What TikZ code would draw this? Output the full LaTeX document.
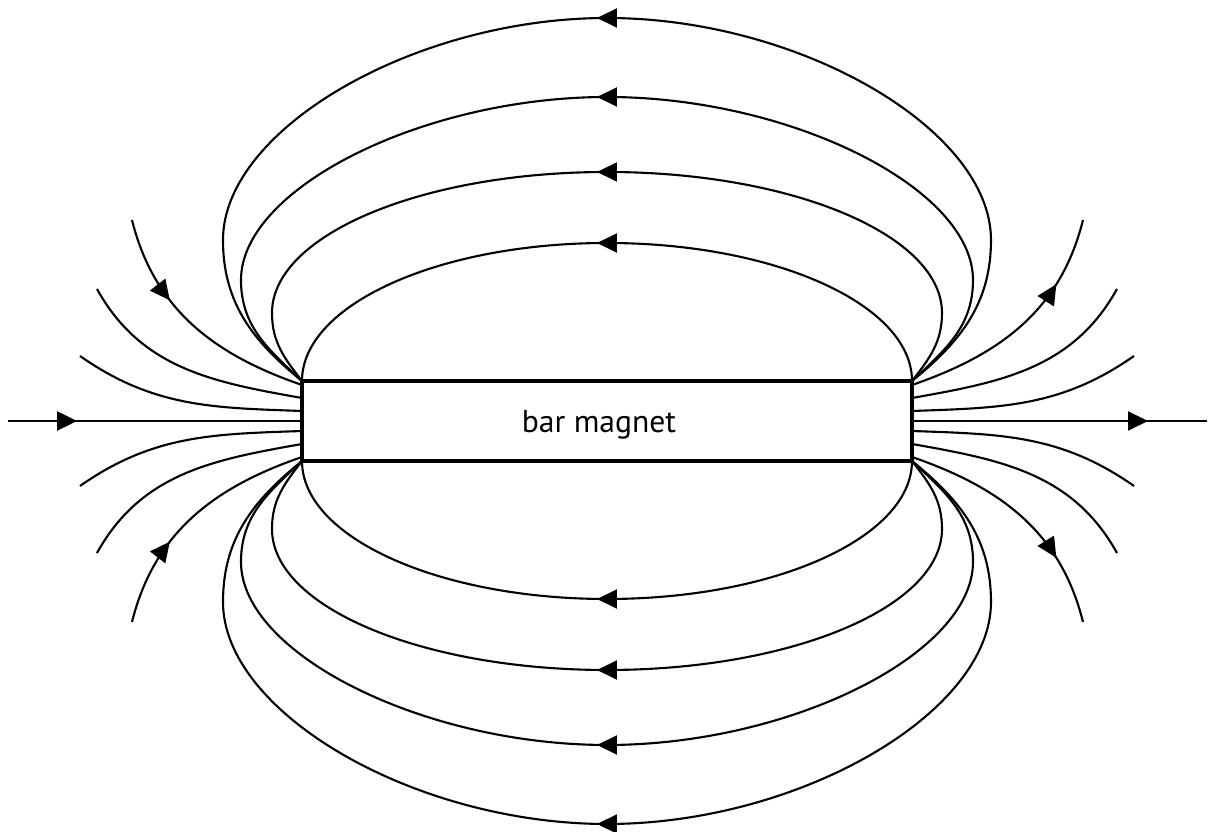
\documentclass[tikz,border=0pt]{standalone}
\usepackage{fontspec}
\newfontfamily\magnetfont{PT Sans}
\usetikzlibrary{arrows.meta,decorations.markings}
\tikzset{%
	magnet/.style    = {draw, line width=0.9pt, rectangle, minimum width=6.1cm,
		minimum height=0.8cm, inner sep=0pt, outer sep=0pt}, % Bar
	field/.style     = {line width=0.6pt}, % Field line
	midarrow/.style  = {postaction={decorate}, decoration={markings,
		mark=at position #1 with {\arrow{Triangle[length=2mm, width=1.9mm]}}}},
	looparrow/.style = {postaction={decorate}, decoration={markings,
		mark=at position 0.5 with {\arrow[xshift=1mm]{Triangle[length=2mm, width=1.9mm]}}}}
}
\begin{document}
\begin{tikzpicture}
			\useasboundingbox (-6.07,-4.11) rectangle (6.02,4.21);
			\node[magnet] (mag) at (0,0) {};
			\node[font=\magnetfont\fontsize{9pt}{11pt}\selectfont] (name) at ([xshift=-0.8mm,yshift=-0.4mm]mag.center) {bar magnet};
			
			% loops above
			\draw[field,looparrow] (mag.north east) arc[start angle=0, end angle=180, x radius=3.05, y radius=1.38];
			\draw[field,looparrow] (mag.north east) to[out=52,in=-90] (3.35,1.08) .. controls (3.35,1.86) and (1.85,2.49) .. (0,2.49) .. controls (-1.85,2.49) and (-3.35,1.86) .. (-3.35,1.08) to[out=-90,in=128] (mag.north west);
			\draw[field,looparrow] (mag.north east) to[out=43,in=-90] (3.66,1.41) .. controls (3.66,2.33) and (1.83,3.24) .. (0,3.24) .. controls (-1.83,3.24) and (-3.66,2.33) .. (-3.66,1.41) to[out=-90,in=137] (mag.north west);
			\draw[field,looparrow] (mag.north east) to[out=39,in=-90] (3.84,1.81) .. controls (3.84,2.92) and (1.92,4.03) .. (0,4.03) .. controls (-1.92,4.03) and (-3.84,2.92) .. (-3.84,1.81) to[out=-90,in=141] (mag.north west);
			
			% loops below
			\draw[field,looparrow] (mag.south east) arc[start angle=0, end angle=-180, x radius=3.05, y radius=1.38];
			\draw[field,looparrow] (mag.south east) to[out=-52,in=90] (3.35,-1.08) .. controls (3.35,-1.86) and (1.85,-2.49) .. (0,-2.49) .. controls (-1.85,-2.49) and (-3.35,-1.86) .. (-3.35,-1.08) to[out=90,in=-128] (mag.south west);
			\draw[field,looparrow] (mag.south east) to[out=-43,in=90] (3.66,-1.41) .. controls (3.66,-2.33) and (1.83,-3.24) .. (0,-3.24) .. controls (-1.83,-3.24) and (-3.66,-2.33) .. (-3.66,-1.41) to[out=90,in=-137] (mag.south west);
			\draw[field,looparrow] (mag.south east) to[out=-39,in=90] (3.84,-1.81) .. controls (3.84,-2.92) and (1.92,-4.03) .. (0,-4.03) .. controls (-1.92,-4.03) and (-3.84,-2.92) .. (-3.84,-1.81) to[out=90,in=-141] (mag.south west);
			
			% left end
			\draw[field,midarrow=0.36] (-4.75,2.01) to[out=-76,in=161] ([yshift=3.6mm]mag.west);
			\draw[field] (-5.10,1.32) to[out=-61,in=170] ([yshift=2.3mm]mag.west);
			\draw[field] (-5.27,0.65) to[out=-35,in=178] ([yshift=1mm]mag.west);
			\draw[field,midarrow=0.235] (-5.99,0) -- (mag.west);
			\draw[field] (-5.27,-0.65) to[out=35,in=-178] ([yshift=-1mm]mag.west);
			\draw[field] (-5.10,-1.32) to[out=61,in=-170] ([yshift=-2.3mm]mag.west);
			\draw[field,midarrow=0.36] (-4.75,-2.01) to[out=76,in=-161] ([yshift=-3.6mm]mag.west);
			
			% right end
			\draw[field,midarrow=0.72] ([yshift=3.6mm]mag.east) to[out=19,in=-104] (4.76,2.01);
			\draw[field] ([yshift=2.3mm]mag.east) to[out=10,in=-119] (5.10,1.32);
			\draw[field] ([yshift=1mm]mag.east) to[out=2,in=-145] (5.27,0.65);
			\draw[field,midarrow=0.80] (mag.east) -- (6.00,0);
			\draw[field] ([yshift=-1mm]mag.east) to[out=-2,in=145] (5.27,-0.65);
			\draw[field] ([yshift=-2.3mm]mag.east) to[out=-10,in=119] (5.10,-1.32);
			\draw[field,midarrow=0.72] ([yshift=-3.6mm]mag.east) to[out=-19,in=104] (4.76,-2.01);
		\end{tikzpicture}
\end{document}
